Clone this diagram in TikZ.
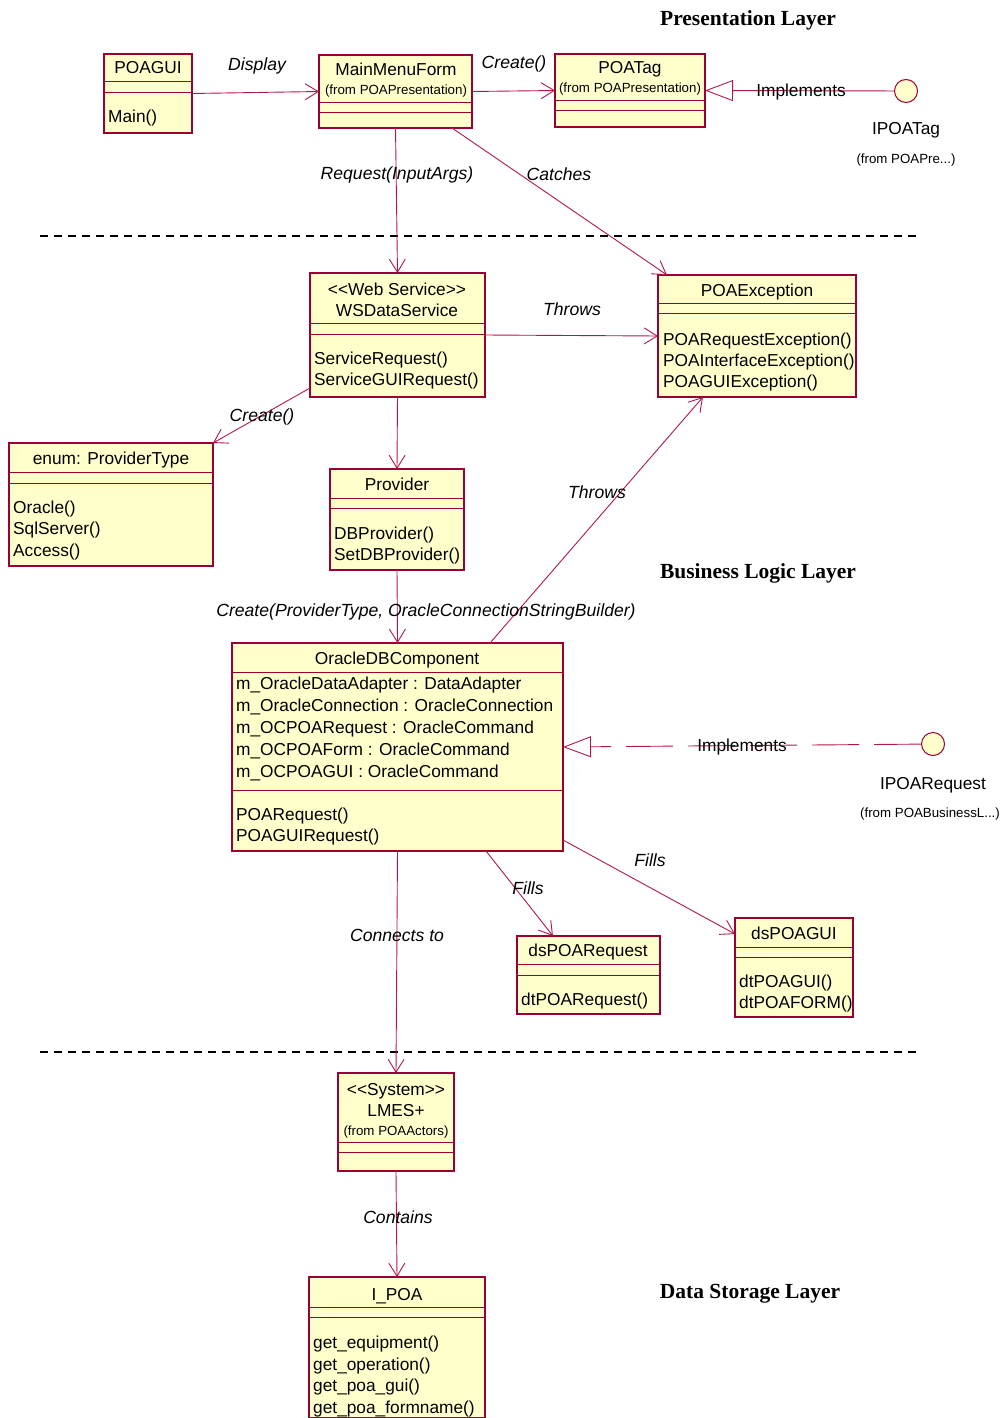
\documentclass[tikz,border=0pt]{standalone}
\usepackage{fontspec}
\setmainfont{Liberation Sans}[Ligatures=TeXOff]
\newfontfamily\layerfont{Liberation Serif}
\usetikzlibrary{arrows.meta}
\definecolor{umlFill}{RGB}{255,255,204}
\definecolor{umlBorder}{RGB}{153,0,51}
\definecolor{umlLine}{RGB}{176,24,72}

\begin{document}
\begin{tikzpicture}[x=1pt, y=-1pt,
    % Define styles - open barbs for associations, hollow triangles for realizations
    class/.style={rectangle, draw=umlBorder, fill=umlFill, line width=1.4pt, anchor=north west, inner sep=0pt, outer sep=0pt},
    compart/.style={draw=umlBorder, line width=1pt},
    cname/.style={anchor=base, inner sep=0pt, font=\fontsize{17.3}{21.6}\selectfont},
    pkg/.style={anchor=base, inner sep=0pt, font=\fontsize{13.3}{15}\selectfont},
    member/.style={anchor=base west, inner sep=0pt, font=\fontsize{17.3}{21.6}\selectfont},
    rel/.style={anchor=base, inner sep=0pt, font=\fontsize{17.6}{21.6}\selectfont\itshape},
    layer/.style={anchor=base, inner sep=0pt, font=\layerfont\bfseries\fontsize{21.5}{25}\selectfont},
    iface/.style={circle, draw=umlBorder, fill=umlFill, line width=1pt, minimum size=23pt, inner sep=0pt},
    assoc/.style={-{Straight Barb[length=13pt, width=16pt]}, draw=umlLine, line width=0.9pt},
    realize/.style={-{Triangle[open, length=28pt, width=21pt]}, draw=umlLine, line width=0.9pt},
    layersep/.style={dash pattern=on 8pt off 6pt, line width=1.5pt}
]
\useasboundingbox (0,0) rectangle (1003,1418);

% Layer titles and separators
\node[layer] (presTitle) at (748,26) {Presentation Layer};
\node[layer] (busTitle) at (758,578) {Business Logic Layer};
\node[layer] (dataTitle) at (750,1298) {Data Storage Layer};
\draw[layersep] (40,236) -- (918,236);
\draw[layersep] (40,1052) -- (918,1052);

% POAGUI
\node[class, minimum width=88pt, minimum height=79pt] (poagui) at (104,54) {};
\draw[compart] ([yshift=-28pt]poagui.north west) -- ([yshift=-28pt]poagui.north east);
\draw[compart] ([yshift=-39pt]poagui.north west) -- ([yshift=-39pt]poagui.north east);
\node[cname] (poaguiName) at (148,74) {POAGUI};
\node[member] (poaguiM1) at (108,123) {Main()};

% MainMenuForm
\node[class, minimum width=153pt, minimum height=73pt] (mainMenu) at (319,55) {};
\draw[compart] ([yshift=-48pt]mainMenu.north west) -- ([yshift=-48pt]mainMenu.north east);
\draw[compart] ([yshift=-58pt]mainMenu.north west) -- ([yshift=-58pt]mainMenu.north east);
\node[cname] (mainMenuName) at (396,76) {MainMenuForm};
\node[pkg] (mainMenuPkg) at (396,95) {(from POAPresentation)};

% POATag
\node[class, minimum width=150pt, minimum height=73pt] (poaTag) at (555,54) {};
\draw[compart] ([yshift=-47pt]poaTag.north west) -- ([yshift=-47pt]poaTag.north east);
\draw[compart] ([yshift=-57pt]poaTag.north west) -- ([yshift=-57pt]poaTag.north east);
\node[cname] (poaTagName) at (630,74) {POATag};
\node[pkg] (poaTagPkg) at (630,93) {(from POAPresentation)};

% IPOATag interface
\node[iface] (ipoaTag) at (906,91) {};
\node[cname] (ipoaTagName) at (906,135) {IPOATag};
\node[pkg] (ipoaTagPkg) at (906,163) {(from POAPre...)};

% WSDataService
\node[class, minimum width=175pt, minimum height=124pt] (wsData) at (310,273) {};
\draw[compart] ([yshift=-50pt]wsData.north west) -- ([yshift=-50pt]wsData.north east);
\draw[compart] ([yshift=-61pt]wsData.north west) -- ([yshift=-61pt]wsData.north east);
\node[cname] (wsDataStereo) at (397,295) {<<Web Service>>};
\node[cname] (wsDataName) at (397,316) {WSDataService};
\node[member] (wsDataM1) at (314,364) {ServiceRequest()};
\node[member] (wsDataM2) at (314,385) {ServiceGUIRequest()};

% POAException
\node[class, minimum width=198pt, minimum height=122pt] (poaExc) at (658,275) {};
\draw[compart] ([yshift=-28pt]poaExc.north west) -- ([yshift=-28pt]poaExc.north east);
\draw[compart] ([yshift=-38pt]poaExc.north west) -- ([yshift=-38pt]poaExc.north east);
\node[cname] (poaExcName) at (757,296) {POAException};
\node[member] (poaExcM1) at (663,345) {POARequestException()};
\node[member] (poaExcM2) at (663,366) {POAInterfaceException()};
\node[member] (poaExcM3) at (663,387) {POAGUIException()};

% enum: ProviderType
\node[class, minimum width=204pt, minimum height=123pt] (provType) at (9,443) {};
\draw[compart] ([yshift=-29pt]provType.north west) -- ([yshift=-29pt]provType.north east);
\draw[compart] ([yshift=-40pt]provType.north west) -- ([yshift=-40pt]provType.north east);
\node[cname] (provTypeName) at (111,464) {enum: ProviderType};
\node[member] (provTypeM1) at (13,513) {Oracle()};
\node[member] (provTypeM2) at (13,534) {SqlServer()};
\node[member] (provTypeM3) at (13,556) {Access()};

% Provider
\node[class, minimum width=134pt, minimum height=101pt] (provider) at (330,469) {};
\draw[compart] ([yshift=-29pt]provider.north west) -- ([yshift=-29pt]provider.north east);
\draw[compart] ([yshift=-39pt]provider.north west) -- ([yshift=-39pt]provider.north east);
\node[cname] (providerName) at (397,490) {Provider};
\node[member] (providerM1) at (334,539) {DBProvider()};
\node[member] (providerM2) at (334,560) {SetDBProvider()};

% OracleDBComponent
\node[class, minimum width=331pt, minimum height=208pt] (oracleDB) at (232,643) {};
\draw[compart] ([yshift=-29pt]oracleDB.north west) -- ([yshift=-29pt]oracleDB.north east);
\draw[compart] ([yshift=-147pt]oracleDB.north west) -- ([yshift=-147pt]oracleDB.north east);
\node[cname] (oracleDBName) at (397,664) {OracleDBComponent};
\node[member] (oracleDBA1) at (236,689) {m\_OracleDataAdapter : DataAdapter};
\node[member] (oracleDBA2) at (236,711) {m\_OracleConnection : OracleConnection};
\node[member] (oracleDBA3) at (236,733) {m\_OCPOARequest : OracleCommand};
\node[member] (oracleDBA4) at (236,755) {m\_OCPOAForm : OracleCommand};
\node[member] (oracleDBA5) at (236,777) {m\_OCPOAGUI : OracleCommand};
\node[member] (oracleDBM1) at (236,820) {POARequest()};
\node[member] (oracleDBM2) at (236,841) {POAGUIRequest()};

% IPOARequest interface
\node[iface] (ipoaReq) at (933,744) {};
\node[cname] (ipoaReqName) at (933,789) {IPOARequest};
\node[pkg] (ipoaReqPkg) at (930,817) {(from POABusinessL...)};

% dsPOARequest
\node[class, minimum width=143pt, minimum height=78pt] (dsReq) at (517,936) {};
\draw[compart] ([yshift=-28pt]dsReq.north west) -- ([yshift=-28pt]dsReq.north east);
\draw[compart] ([yshift=-39pt]dsReq.north west) -- ([yshift=-39pt]dsReq.north east);
\node[cname] (dsReqName) at (588,956) {dsPOARequest};
\node[member] (dsReqM1) at (521,1005) {dtPOARequest()};

% dsPOAGUI
\node[class, minimum width=118pt, minimum height=99pt] (dsGui) at (735,918) {};
\draw[compart] ([yshift=-29pt]dsGui.north west) -- ([yshift=-29pt]dsGui.north east);
\draw[compart] ([yshift=-39pt]dsGui.north west) -- ([yshift=-39pt]dsGui.north east);
\node[cname] (dsGuiName) at (794,939) {dsPOAGUI};
\node[member] (dsGuiM1) at (739,987) {dtPOAGUI()};
\node[member] (dsGuiM2) at (739,1008) {dtPOAFORM()};

% LMES+
\node[class, minimum width=116pt, minimum height=98pt] (lmes) at (338,1073) {};
\draw[compart] ([yshift=-69pt]lmes.north west) -- ([yshift=-69pt]lmes.north east);
\draw[compart] ([yshift=-79pt]lmes.north west) -- ([yshift=-79pt]lmes.north east);
\node[cname] (lmesStereo) at (396,1095) {<<System>>};
\node[cname] (lmesName) at (396,1116) {LMES+};
\node[pkg] (lmesPkg) at (396,1135) {(from POAActors)};

% I_POA
\node[class, minimum width=176pt, minimum height=141pt] (ipoa) at (309,1277) {};
\draw[compart] ([yshift=-30pt]ipoa.north west) -- ([yshift=-30pt]ipoa.north east);
\draw[compart] ([yshift=-40pt]ipoa.north west) -- ([yshift=-40pt]ipoa.north east);
\node[cname] (ipoaName) at (397,1300) {I\_POA};
\node[member] (ipoaM1) at (313,1348) {get\_equipment()};
\node[member] (ipoaM2) at (313,1370) {get\_operation()};
\node[member] (ipoaM3) at (313,1391) {get\_poa\_gui()};
\node[member] (ipoaM4) at (313,1413) {get\_poa\_formname()};

% Relationships
\draw[assoc] (poagui.east) -- (mainMenu.west);
\draw[assoc] (mainMenu.east) -- (poaTag.west);
\draw[realize] (ipoaTag) -- (poaTag.east);
\draw[assoc] (mainMenu.south) -- (wsData.north);
\draw[assoc] ([xshift=-20pt]mainMenu.south east) -- ([xshift=9pt]poaExc.north west);
\draw[assoc] (wsData.east) -- (poaExc.west);
\draw[assoc] ([yshift=-53pt]wsData.west) -- (provType.north east);
\draw[assoc] (wsData.south) -- (provider.north);
\draw[assoc] (provider.south) -- (oracleDB.north);
\draw[assoc] ([xshift=258pt]oracleDB.north west) -- ([xshift=45pt]poaExc.south west);
\draw[realize, dash pattern=on 47pt off 15pt] (ipoaReq) -- (oracleDB.east);
\draw[assoc] (oracleDB.south) -- (lmes.north);
\draw[assoc] ([xshift=-77pt]oracleDB.south east) -- ([xshift=36pt]dsReq.north west);
\draw[assoc] ([yshift=11pt]oracleDB.south east) -- ([yshift=-16pt]dsGui.north west);
\draw[assoc] (lmes.south) -- (ipoa.north);

% Relationship labels
\node[rel] (displayLbl) at (257,71) {Display};
\node[rel] (createTagLbl) at (514,69) {Create()};
\node[cname] (implTagLbl) at (801,97) {Implements};
\node[rel] (requestLbl) at (397,179) {Request(InputArgs)};
\node[rel] (catchesLbl) at (559,180) {Catches};
\node[rel] (throwsLbl) at (572,315) {Throws};
\node[rel] (createEnumLbl) at (262,421) {Create()};
\node[rel] (throwsDBLbl) at (597,498) {Throws};
\node[rel] (createDBLbl) at (426,616) {Create(ProviderType, OracleConnectionStringBuilder)};
\node[cname] (implReqLbl) at (742,751) {Implements};
\node[rel] (fillsReqLbl) at (528,894) {Fills};
\node[rel] (fillsGuiLbl) at (650,866) {Fills};
\node[rel] (connectsLbl) at (397,941) {Connects to};
\node[rel] (containsLbl) at (398,1223) {Contains};

\end{tikzpicture}
\end{document}
